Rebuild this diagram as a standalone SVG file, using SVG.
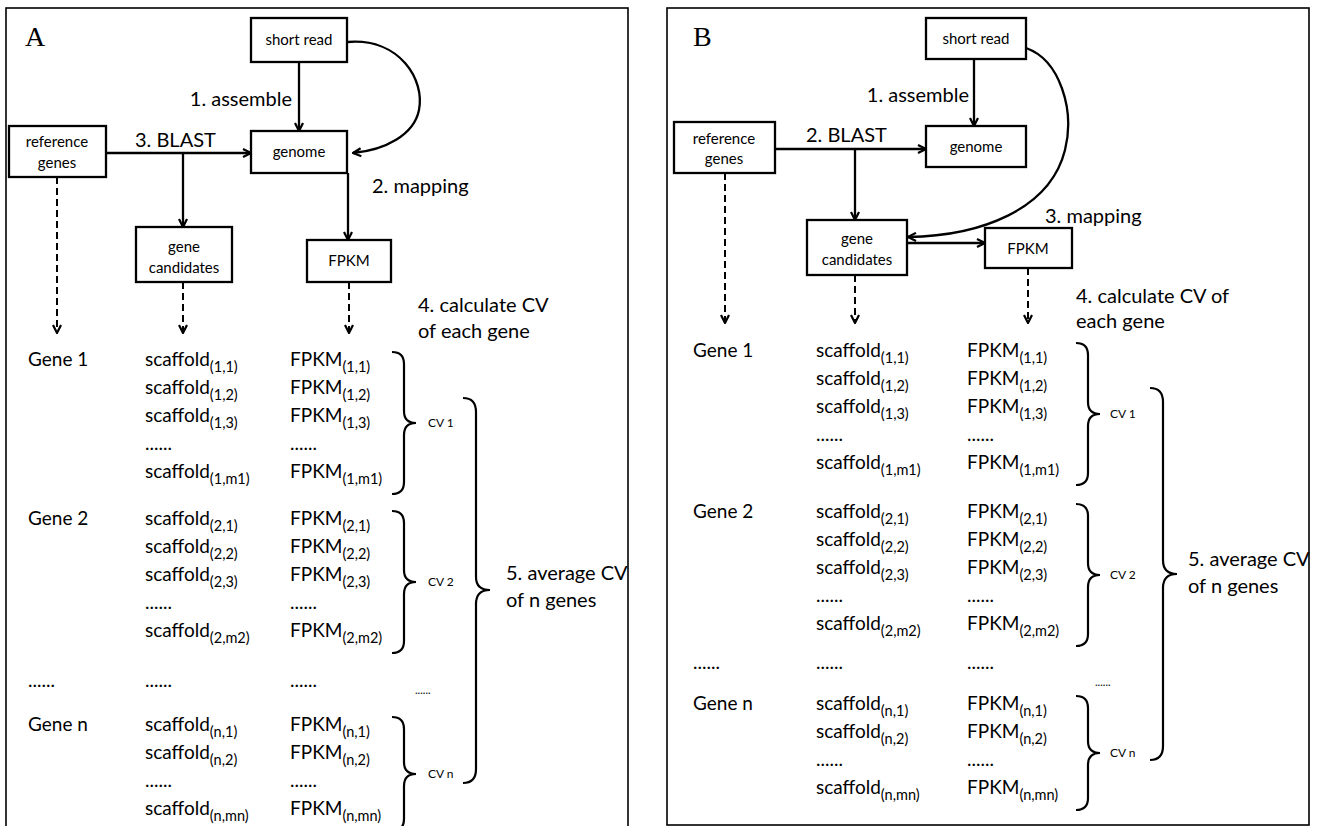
<svg xmlns="http://www.w3.org/2000/svg" width="1319" height="826" viewBox="0 0 1319 826">
<defs>
<style>
text{font-family:Lato,"Liberation Sans",sans-serif;fill:#000}
.frame{fill:#fff;stroke:#000;stroke-width:1.6}
.box{fill:#fff;stroke:#000;stroke-width:2.3}
.bt{font-size:15px;text-anchor:middle}
.lab{font-size:20px}
.r{font-size:19px}
.s{font-size:14.5px}
.cv{font-size:12px}
.sd{font-size:11px}
.pl{font-family:"Liberation Serif",serif;font-size:28px}
.ln{fill:none;stroke:#000;stroke-width:2.3}
.da{fill:none;stroke:#000;stroke-width:2;stroke-dasharray:7 4}
.br{fill:none;stroke:#000;stroke-width:2.2}
</style>
<marker id="ah" viewBox="0 0 10 10" refX="9" refY="5" markerWidth="10" markerHeight="10" markerUnits="userSpaceOnUse" orient="auto">
<path d="M1,1 L9,5 L1,9" fill="none" stroke="#000" stroke-width="2.2" stroke-dasharray="none"/>
</marker>
</defs>
<rect width="1319" height="826" fill="#fff"/>
<g id="panelA">
<rect class="frame" x="6" y="8" width="622" height="830"/>
<text class="pl" x="25" y="46">A</text>
</g>
<g id="panelB">
<rect class="frame" x="667" y="8" width="642" height="817"/>
<text class="pl" x="693" y="46">B</text>
</g>

<g id="connectors">
<line class="ln" x1="299" y1="62" x2="299" y2="131" marker-end="url(#ah)"/>
<line class="ln" x1="106" y1="153" x2="251" y2="153" marker-end="url(#ah)"/>
<line class="ln" x1="183" y1="153" x2="183" y2="227" marker-end="url(#ah)"/>
<line class="ln" x1="348" y1="173" x2="348" y2="240" marker-end="url(#ah)"/>
<path class="ln" d="M348,42 C400,38 425,80 419,110 C414,135 385,150 353,153" marker-end="url(#ah)"/>
<line class="da" x1="57" y1="177" x2="57" y2="333" marker-end="url(#ah)"/>
<line class="da" x1="183" y1="282" x2="183" y2="333" marker-end="url(#ah)"/>
<line class="da" x1="349" y1="282" x2="349" y2="333" marker-end="url(#ah)"/>

<line class="ln" x1="974" y1="59" x2="974" y2="126" marker-end="url(#ah)"/>
<line class="ln" x1="775" y1="149" x2="926" y2="149" marker-end="url(#ah)"/>
<line class="ln" x1="855" y1="149" x2="855" y2="220" marker-end="url(#ah)"/>
<line class="ln" x1="907" y1="243" x2="985" y2="243" marker-end="url(#ah)"/>
<path class="ln" d="M1026,48 C1060,60 1075,110 1065,150 C1050,210 980,236 908,237" marker-end="url(#ah)"/>
<line class="da" x1="725" y1="173" x2="725" y2="323" marker-end="url(#ah)"/>
<line class="da" x1="855" y1="275" x2="855" y2="323" marker-end="url(#ah)"/>
<line class="da" x1="1028" y1="268" x2="1028" y2="323" marker-end="url(#ah)"/>
</g>

<g id="A-short-read"><rect class="box" x="251" y="18" width="96" height="44"/><text class="bt" x="299" y="45">short read</text></g>
<g id="A-genome"><rect class="box" x="251" y="131" width="96" height="42"/><text class="bt" x="299" y="157">genome</text></g>
<g id="A-reference-genes"><rect class="box" x="9" y="126" width="97" height="51"/><text class="bt" x="57" y="147">reference</text><text class="bt" x="57" y="168">genes</text></g>
<g id="A-gene-candidates"><rect class="box" x="136" y="227" width="96" height="55"/><text class="bt" x="184" y="252">gene</text><text class="bt" x="184" y="273">candidates</text></g>
<g id="A-FPKM"><rect class="box" x="307" y="240" width="84" height="42"/><text class="bt" x="349" y="266">FPKM</text></g>

<g id="A-labels">
<text class="lab" x="292" y="106" text-anchor="end">1. assemble</text>
<text class="lab" x="135" y="147">3. BLAST</text>
<text class="lab" x="372" y="193">2. mapping</text>
<text class="lab" x="418" y="312">4. calculate CV</text>
<text class="lab" x="418" y="338">of each gene</text>
<text class="lab" x="506" y="580">5. average CV</text>
<text class="lab" x="506" y="607">of n genes</text>
</g>

<g id="A-gene1">
<text class="r" x="28" y="366">Gene 1</text>
<text class="r" x="145" y="366">scaffold<tspan class="s" dy="6">(1,1)</tspan></text>
<text class="r" x="145" y="394">scaffold<tspan class="s" dy="6">(1,2)</tspan></text>
<text class="r" x="145" y="422">scaffold<tspan class="s" dy="6">(1,3)</tspan></text>
<text class="r" x="145" y="450">......</text>
<text class="r" x="145" y="478">scaffold<tspan class="s" dy="6">(1,m1)</tspan></text>
<text class="r" x="290" y="366">FPKM<tspan class="s" dy="6">(1,1)</tspan></text>
<text class="r" x="290" y="394">FPKM<tspan class="s" dy="6">(1,2)</tspan></text>
<text class="r" x="290" y="422">FPKM<tspan class="s" dy="6">(1,3)</tspan></text>
<text class="r" x="290" y="450">......</text>
<text class="r" x="290" y="478">FPKM<tspan class="s" dy="6">(1,m1)</tspan></text>
<path class="br" d="M392,352 Q404,352 404,364 L404,411 Q404,423 416,423 Q404,423 404,435 L404,482 Q404,494 392,494"/>
<text class="cv" x="428" y="427">CV 1</text>
</g>
<g id="A-gene2">
<text class="r" x="28" y="525">Gene 2</text>
<text class="r" x="145" y="525">scaffold<tspan class="s" dy="6">(2,1)</tspan></text>
<text class="r" x="145" y="553">scaffold<tspan class="s" dy="6">(2,2)</tspan></text>
<text class="r" x="145" y="581">scaffold<tspan class="s" dy="6">(2,3)</tspan></text>
<text class="r" x="145" y="609">......</text>
<text class="r" x="145" y="637">scaffold<tspan class="s" dy="6">(2,m2)</tspan></text>
<text class="r" x="290" y="525">FPKM<tspan class="s" dy="6">(2,1)</tspan></text>
<text class="r" x="290" y="553">FPKM<tspan class="s" dy="6">(2,2)</tspan></text>
<text class="r" x="290" y="581">FPKM<tspan class="s" dy="6">(2,3)</tspan></text>
<text class="r" x="290" y="609">......</text>
<text class="r" x="290" y="637">FPKM<tspan class="s" dy="6">(2,m2)</tspan></text>
<path class="br" d="M392,511 Q404,511 404,523 L404,570 Q404,582 416,582 Q404,582 404,594 L404,641 Q404,653 392,653"/>
<text class="cv" x="428" y="586">CV 2</text>
</g>
<g id="A-ellipsis">
<text class="r" x="28" y="687">......</text>
<text class="r" x="145" y="687">......</text>
<text class="r" x="290" y="687">......</text>
<text class="sd" x="415" y="694">......</text>
</g>
<g id="A-genen">
<text class="r" x="28" y="731">Gene n</text>
<text class="r" x="145" y="731">scaffold<tspan class="s" dy="6">(n,1)</tspan></text>
<text class="r" x="145" y="759">scaffold<tspan class="s" dy="6">(n,2)</tspan></text>
<text class="r" x="145" y="787">......</text>
<text class="r" x="145" y="815">scaffold<tspan class="s" dy="6">(n,mn)</tspan></text>
<text class="r" x="290" y="731">FPKM<tspan class="s" dy="6">(n,1)</tspan></text>
<text class="r" x="290" y="759">FPKM<tspan class="s" dy="6">(n,2)</tspan></text>
<text class="r" x="290" y="787">......</text>
<text class="r" x="290" y="815">FPKM<tspan class="s" dy="6">(n,mn)</tspan></text>
<path class="br" d="M392,717 Q404,717 404,729 L404,762 Q404,774 416,774 Q404,774 404,786 L404,819 Q404,831 392,831"/>
<text class="cv" x="428" y="778">CV n</text>
</g>
<g id="A-average">
<path class="br" d="M463,398 Q476,398 476,412 L476,577 Q476,590 490,590 Q476,590 476,604 L476,769 Q476,783 463,783"/>
</g>

<g id="B-short-read"><rect class="box" x="926" y="18" width="100" height="41"/><text class="bt" x="976" y="44">short read</text></g>
<g id="B-genome"><rect class="box" x="926" y="126" width="100" height="41"/><text class="bt" x="976" y="152">genome</text></g>
<g id="B-reference-genes"><rect class="box" x="674" y="122" width="101" height="51"/><text class="bt" x="724" y="144">reference</text><text class="bt" x="724" y="164">genes</text></g>
<g id="B-gene-candidates"><rect class="box" x="807" y="220" width="100" height="55"/><text class="bt" x="857" y="244">gene</text><text class="bt" x="857" y="265">candidates</text></g>
<g id="B-FPKM"><rect class="box" x="985" y="228" width="87" height="40"/><text class="bt" x="1028" y="254">FPKM</text></g>

<g id="B-labels">
<text class="lab" x="969" y="102" text-anchor="end">1. assemble</text>
<text class="lab" x="806" y="142">2. BLAST</text>
<text class="lab" x="1045" y="223">3. mapping</text>
<text class="lab" x="1076" y="303">4. calculate CV of</text>
<text class="lab" x="1076" y="328">each gene</text>
<text class="lab" x="1188" y="566">5. average CV</text>
<text class="lab" x="1188" y="593">of n genes</text>
</g>

<g id="B-gene1">
<text class="r" x="693" y="357">Gene 1</text>
<text class="r" x="816" y="357">scaffold<tspan class="s" dy="6">(1,1)</tspan></text>
<text class="r" x="816" y="385">scaffold<tspan class="s" dy="6">(1,2)</tspan></text>
<text class="r" x="816" y="413">scaffold<tspan class="s" dy="6">(1,3)</tspan></text>
<text class="r" x="816" y="441">......</text>
<text class="r" x="816" y="469">scaffold<tspan class="s" dy="6">(1,m1)</tspan></text>
<text class="r" x="967" y="357">FPKM<tspan class="s" dy="6">(1,1)</tspan></text>
<text class="r" x="967" y="385">FPKM<tspan class="s" dy="6">(1,2)</tspan></text>
<text class="r" x="967" y="413">FPKM<tspan class="s" dy="6">(1,3)</tspan></text>
<text class="r" x="967" y="441">......</text>
<text class="r" x="967" y="469">FPKM<tspan class="s" dy="6">(1,m1)</tspan></text>
<path class="br" d="M1076,343 Q1088,343 1088,355 L1088,402 Q1088,414 1100,414 Q1088,414 1088,426 L1088,473 Q1088,485 1076,485"/>
<text class="cv" x="1110" y="418">CV 1</text>
</g>
<g id="B-gene2">
<text class="r" x="693" y="518">Gene 2</text>
<text class="r" x="816" y="518">scaffold<tspan class="s" dy="6">(2,1)</tspan></text>
<text class="r" x="816" y="546">scaffold<tspan class="s" dy="6">(2,2)</tspan></text>
<text class="r" x="816" y="574">scaffold<tspan class="s" dy="6">(2,3)</tspan></text>
<text class="r" x="816" y="602">......</text>
<text class="r" x="816" y="630">scaffold<tspan class="s" dy="6">(2,m2)</tspan></text>
<text class="r" x="967" y="518">FPKM<tspan class="s" dy="6">(2,1)</tspan></text>
<text class="r" x="967" y="546">FPKM<tspan class="s" dy="6">(2,2)</tspan></text>
<text class="r" x="967" y="574">FPKM<tspan class="s" dy="6">(2,3)</tspan></text>
<text class="r" x="967" y="602">......</text>
<text class="r" x="967" y="630">FPKM<tspan class="s" dy="6">(2,m2)</tspan></text>
<path class="br" d="M1076,504 Q1088,504 1088,516 L1088,563 Q1088,575 1100,575 Q1088,575 1088,587 L1088,634 Q1088,646 1076,646"/>
<text class="cv" x="1110" y="579">CV 2</text>
</g>
<g id="B-ellipsis">
<text class="r" x="693" y="669">......</text>
<text class="r" x="816" y="669">......</text>
<text class="r" x="967" y="669">......</text>
<text class="sd" x="1095" y="686">......</text>
</g>
<g id="B-genen">
<text class="r" x="693" y="710">Gene n</text>
<text class="r" x="816" y="710">scaffold<tspan class="s" dy="6">(n,1)</tspan></text>
<text class="r" x="816" y="738">scaffold<tspan class="s" dy="6">(n,2)</tspan></text>
<text class="r" x="816" y="766">......</text>
<text class="r" x="816" y="794">scaffold<tspan class="s" dy="6">(n,mn)</tspan></text>
<text class="r" x="967" y="710">FPKM<tspan class="s" dy="6">(n,1)</tspan></text>
<text class="r" x="967" y="738">FPKM<tspan class="s" dy="6">(n,2)</tspan></text>
<text class="r" x="967" y="766">......</text>
<text class="r" x="967" y="794">FPKM<tspan class="s" dy="6">(n,mn)</tspan></text>
<path class="br" d="M1076,696 Q1088,696 1088,708 L1088,741 Q1088,753 1100,753 Q1088,753 1088,765 L1088,798 Q1088,810 1076,810"/>
<text class="cv" x="1110" y="757">CV n</text>
</g>
<g id="B-average">
<path class="br" d="M1150,388 Q1163,388 1163,402 L1163,560 Q1163,574 1177,574 Q1163,574 1163,588 L1163,746 Q1163,760 1150,760"/>
</g>
</svg>
